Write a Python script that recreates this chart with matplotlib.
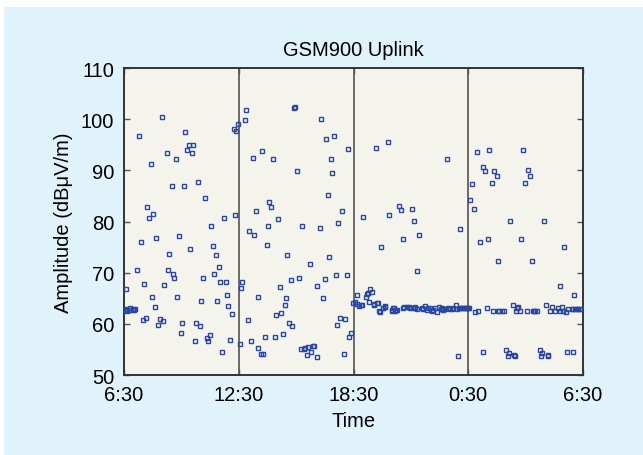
import numpy as np
import matplotlib.pyplot as plt
from matplotlib.patches import Rectangle

plt.rcParams['font.family'] = ['Liberation Sans', 'DejaVu Sans']

# hours after 6:30, amplitude in dBuV/m
# 6:30 - 12:30
block1_t = [0.03, 0.10, 0.17, 0.24, 0.30, 0.37, 0.45, 0.52, 0.60,
            0.11, 0.81, 0.69, 0.88, 1.05, 1.01, 1.14, 1.22, 1.31, 1.39, 1.44,
            1.54, 1.61, 1.69, 1.80, 1.86, 1.99, 2.06, 2.10, 2.23, 2.29,
            2.36, 2.49, 2.55, 2.61, 2.70, 2.79, 2.85, 2.98, 3.04, 3.15,
            3.19, 3.30, 3.39, 3.45, 3.54, 3.62, 3.73, 3.79, 3.86, 3.96,
            4.01, 4.14, 4.22, 4.33, 4.41, 4.48, 4.54, 4.63, 4.69, 4.80,
            4.86, 4.95, 5.01, 5.14, 5.21, 5.31, 5.38, 5.44, 5.55, 5.64,
            5.76, 5.81, 5.87, 5.96]
block1_amp = [62.8, 62.9, 62.6, 62.8, 63.0, 62.7, 62.9, 62.8, 62.9,
              66.8, 96.8, 70.5, 75.9, 67.8, 60.7, 61.1, 82.9, 80.7, 91.3, 65.2,
              81.5, 63.2, 76.7, 59.7, 61.0, 100.5, 60.5, 67.5, 93.3, 70.5,
              73.6, 86.9, 69.8, 68.9, 92.2, 65.2, 77.1, 58.2, 60.1, 86.9,
              97.5, 93.9, 95.0, 74.6, 93.3, 95.0, 56.6, 60.1, 87.7, 59.5,
              64.5, 68.9, 84.5, 57.2, 56.6, 57.9, 79.2, 75.2, 69.8, 73.4,
              64.5, 71.2, 68.1, 54.5, 80.7, 68.1, 65.7, 63.5, 56.8, 62.0,
              98.1, 81.2, 97.7, 99.1]

# 12:30 - 18:30
block2_t = [6.06, 6.13, 6.19, 6.32, 6.36, 6.47, 6.54, 6.62, 6.73, 6.79,
            6.90, 6.99, 7.03, 7.14, 7.26, 7.22, 7.37, 7.46, 7.54, 7.59,
            7.69, 7.78, 7.89, 7.95, 8.06, 8.14, 8.21, 8.29, 8.40, 8.46,
            8.53, 8.64, 8.72, 8.76, 8.89, 8.96, 9.06, 9.13, 9.24, 9.32,
            9.39, 9.49, 9.58, 9.64, 9.73, 9.79, 9.88, 9.96, 10.07, 10.11,
            10.24, 10.31, 10.39, 10.50, 10.56, 10.65, 10.74, 10.80, 10.89, 10.97,
            11.06, 11.12, 11.21, 11.31, 11.40, 11.49, 11.53, 11.66, 11.72, 11.78,
            11.87]
block2_amp = [56.1, 67.0, 68.2, 99.8, 101.7, 60.8, 78.1, 56.6, 92.5, 77.3,
              82.0, 65.3, 55.2, 54.2, 54.2, 93.7, 57.5, 75.4, 79.2, 83.8,
              82.9, 92.2, 57.4, 61.7, 80.5, 67.2, 62.2, 58.1, 63.6, 65.0,
              73.4, 60.2, 68.5, 59.5, 102.1, 102.3, 89.9, 68.9, 55.0, 79.2,
              55.0, 55.2, 53.9, 55.5, 71.6, 54.4, 55.7, 55.7, 53.5, 67.4,
              78.7, 100.1, 65.0, 68.7, 96.1, 85.1, 73.0, 92.2, 89.5, 96.8,
              69.6, 59.7, 79.7, 61.1, 82.0, 54.2, 60.9, 69.6, 94.1, 57.5,
              58.3]

# 18:30 - 0:30
block3_t = [11.96, 12.06, 12.17, 12.28, 12.38, 12.47, 12.19, 12.51, 12.66, 12.75,
            12.79, 12.88, 12.98, 13.07, 13.16, 13.22, 13.35, 13.43, 13.54, 13.63,
            13.80, 13.86, 14.38, 14.49, 14.57, 15.04, 15.15, 15.34, 15.43, 16.88,
            17.44, 17.57, 12.70, 13.28, 13.05]
block3_amp = [64.0, 64.2, 63.9, 63.4, 63.6, 63.7, 65.7, 80.9, 65.2, 66.1,
              64.3, 66.8, 66.3, 63.8, 94.3, 64.1, 62.5, 75.0, 63.0, 63.4,
              95.5, 81.3, 83.1, 82.3, 76.5, 82.4, 80.1, 70.3, 77.4, 92.2,
              53.7, 78.6, 65.8, 64.0, 63.7]

# 0:30 - 6:30
block4_t = [18.11, 18.21, 18.30, 18.47, 18.60, 18.75, 18.79, 18.90, 19.03, 19.11,
            19.24, 19.37, 19.48, 19.54, 19.95, 20.06, 20.12, 20.18, 20.44, 20.78,
            20.87, 20.98, 21.11, 21.23, 21.32, 21.73, 21.81, 21.88, 21.96, 22.16,
            22.82, 22.99, 23.14, 23.48, 23.53, 20.41, 22.15]
block4_amp = [84.2, 87.3, 82.4, 93.6, 76.0, 54.4, 90.6, 89.8, 76.5, 93.9,
              87.6, 89.9, 88.8, 72.3, 54.8, 53.8, 54.3, 80.1, 53.7, 76.5,
              93.9, 87.6, 90.0, 88.8, 72.3, 54.8, 53.8, 54.3, 80.1, 53.7,
              67.3, 75.0, 54.4, 54.5, 65.7, 53.9, 53.9]

# the dense ~63 dBuV/m floor after 18:30
floor_t = [13.39, 13.56, 13.65, 13.99, 14.00, 14.08, 14.10, 14.17, 14.23, 14.26,
           14.61, 14.66, 14.78, 14.91, 14.95, 15.10, 15.21, 15.22, 15.30, 15.56,
           15.62, 15.74, 15.83, 15.90, 16.00, 16.09, 16.18, 16.26, 16.35, 16.49,
           16.55, 16.61, 16.70, 16.79, 16.96, 17.05, 17.13, 17.20, 17.36, 17.40,
           17.50, 17.57, 17.66, 17.74, 17.83, 17.90, 17.95, 18.00, 18.06,
           18.35, 18.53, 18.96, 19.31, 19.57, 19.63, 19.75, 19.87, 20.32, 20.48,
           20.55, 20.62, 20.71, 21.06, 21.37, 21.43, 21.49, 21.58, 22.07, 22.28,
           22.40, 22.54, 22.71, 22.80, 22.89, 22.97, 23.11, 23.24, 23.41, 23.50,
           23.58, 23.67, 23.76, 23.85, 23.93]
floor_amp = [62.4, 63.0, 63.2, 62.7, 62.6, 63.0, 63.0, 62.6, 62.7, 62.7,
             63.0, 63.2, 63.2, 63.2, 63.0, 63.1, 63.2, 63.0, 62.9, 63.0,
             62.9, 63.4, 62.8, 63.0, 63.0, 62.6, 62.8, 63.0, 62.4, 63.2,
             62.9, 63.1, 62.8, 62.9, 63.1, 62.9, 62.9, 63.0, 63.7, 62.9,
             63.0, 63.0, 63.1, 63.0, 63.0, 63.1, 63.0, 63.0, 63.0,
             62.4, 62.5, 63.0, 62.6, 62.5, 62.6, 62.5, 62.6, 63.7, 62.6,
             63.0, 63.2, 62.6, 62.6, 62.5, 62.6, 62.5, 62.6, 63.7, 62.6,
             63.2, 62.6, 63.0, 62.6, 63.2, 62.6, 62.4, 62.9, 62.9, 62.9,
             62.9, 62.9, 62.9, 62.9, 62.9]

tick_pos = [0, 6, 12, 18, 24]
tick_labels = ['6:30', '12:30', '18:30', '0:30', '6:30']

t = np.concatenate([block1_t, block2_t, block3_t, block4_t, floor_t])
amp = np.concatenate([block1_amp, block2_amp, block3_amp, block4_amp, floor_amp])

fig = plt.figure(figsize=(6.43, 4.56), dpi=100, facecolor='white')
# light blue panel behind everything
fig.patches.append(Rectangle((4/643, 0), 1, 1 - 8/456, transform=fig.transFigure,
                             facecolor='#e0f2fa', edgecolor='none', zorder=-10))

ax = fig.add_axes([124/643, 1 - 376/456, 459/643, 307/456])
ax.set_facecolor('#f4f4ec')

for x in tick_pos[1:-1]:
    ax.axvline(x, color='#444444', lw=1.1, zorder=1)

ax.plot(t, amp, linestyle='none', marker='s', ms=3.4, mfc='none',
        mec='#2a47a0', mew=1.0, zorder=3)

ax.set_xlim(0, 24)
ax.set_ylim(50, 110)
ax.set_xticks(tick_pos)
ax.set_xticklabels(tick_labels)
ax.set_yticks(range(50, 111, 10))
ax.tick_params(direction='in', length=4, width=1, color='#555555',
               top=True, right=True, labelsize=14.5, pad=7)
for s in ax.spines.values():
    s.set_linewidth(1.4)
    s.set_color('#333333')

ax.set_title('GSM900 Uplink', fontsize=14.5, pad=9)
ax.set_xlabel('Time', fontsize=14.5, labelpad=5)
ax.set_ylabel('Amplitude (dBμV/m)', fontsize=14.5, labelpad=6)

plt.savefig('out.png', dpi=100, facecolor=fig.get_facecolor())
